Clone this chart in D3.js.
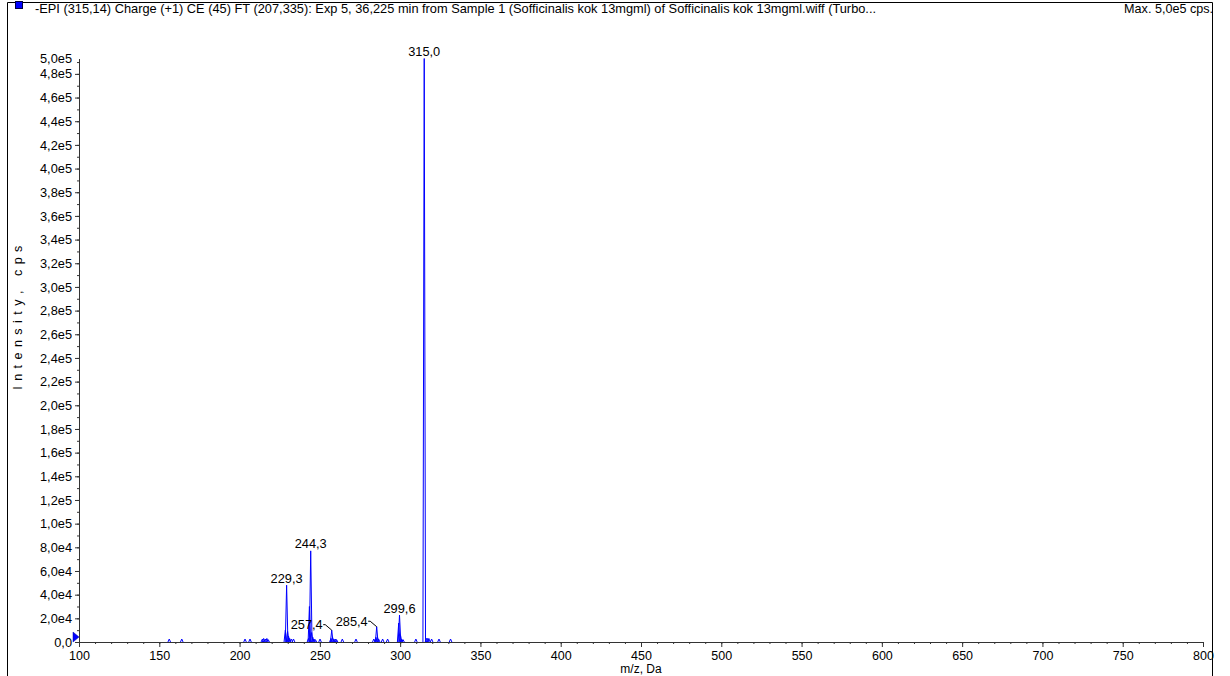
<!DOCTYPE html>
<html>
<head>
<meta charset="utf-8">
<script src="https://cdn.jsdelivr.net/npm/d3@7"></script>
<style>
  html, body { margin: 0; padding: 0; background: #ffffff; }
  svg { display: block; font-family: "Liberation Sans", Arial, sans-serif; }
</style>
</head>
<body>
<svg id="chart" width="1230" height="676"></svg>
<script>
// ---- spectrum data -------------------------------------------------------
const headerTitle = "-EPI (315,14) Charge (+1) CE (45) FT (207,335): Exp 5, 36,225 min from Sample 1 (Sofficinalis kok 13mgml) of Sofficinalis kok 13mgml.wiff (Turbo...";
const headerMax = "Max. 5,0e5 cps.";
const xTitle = "m/z, Da";
const yTitle = "I n t e n s i t y ,   c p s";

// centroid sticks: m/z and intensity (cps)
const peakMz = [
  156.2, 164.0, 203.4, 206.5, 214.2, 215.0, 216.0, 217.0, 217.8,
  228.5, 229.3, 229.9, 230.5, 231.2, 232.3, 233.6,
  242.9, 243.5, 244.3, 244.9, 245.6, 246.4, 247.2, 250.1,
  256.9, 257.4, 257.9, 258.8, 259.8, 260.4, 264.0, 272.5,
  283.6, 284.9, 285.4, 285.9, 286.6, 289.1, 292.2,
  299.1, 299.6, 300.2, 300.9, 301.8, 309.8,
  315.0, 316.4, 317.1, 317.9, 319.6, 324.2, 331.4
];
const peakIntensity = [
  2500, 2500, 2500, 2500, 2500, 3000, 2500, 3000, 2000,
  10000, 48000, 9000, 5000, 3000, 2500, 2500,
  3000, 30000, 77000, 8000, 4000, 2500, 2000, 2500,
  3000, 10000, 4000, 2500, 2500, 2000, 2500, 2500,
  2500, 4000, 12900, 4000, 2500, 2500, 2500,
  16000, 22800, 6000, 2500, 2000, 2500,
  493000, 3000, 3000, 3000, 2500, 2500, 2500
];

// annotated peaks, and the ones whose label sits to the left with a leader
const labelledMz = [229.3, 244.3, 257.4, 285.4, 299.6, 315.0];
const leaderMz = [257.4, 285.4];

// axis ticks
const xTickValues = [100, 150, 200, 250, 300, 350, 400, 450, 500, 550, 600, 650, 700, 750, 800];
const yTickValues = [0, 2e4, 4e4, 6e4, 8e4, 1e5, 1.2e5, 1.4e5, 1.6e5, 1.8e5, 2e5, 2.2e5, 2.4e5, 2.6e5,
  2.8e5, 3e5, 3.2e5, 3.4e5, 3.6e5, 3.8e5, 4e5, 4.2e5, 4.4e5, 4.6e5, 4.8e5];
const yTickLabels = ["0,0", "2,0e4", "4,0e4", "6,0e4", "8,0e4", "1,0e5", "1,2e5", "1,4e5", "1,6e5", "1,8e5",
  "2,0e5", "2,2e5", "2,4e5", "2,6e5", "2,8e5", "3,0e5", "3,2e5", "3,4e5", "3,6e5", "3,8e5",
  "4,0e5", "4,2e5", "4,4e5", "4,6e5", "4,8e5"];
const yTopLabel = "5,0e5";
const maxIntensity = 493000;

// ---- layout --------------------------------------------------------------
const svg = d3.select("#chart");
const W = 1230, H = 676;
const plot = { left: 79, right: 1203, top: 58.5, bottom: 642 };
const blue = "#0000ff";

const x = d3.scaleLinear().domain([100, 800]).range([plot.left, plot.right]);
const y = d3.scaleLinear().domain([0, maxIntensity]).range([plot.bottom, plot.top]);

// panel frame
svg.append("path")
  .attr("d", `M7.5,${H} V2.5 H1212.5 V${H}`)
  .attr("fill", "none").attr("stroke", "#000").attr("stroke-width", 1);

// header: legend swatch, title, max intensity
svg.append("rect")
  .attr("x", 15.5).attr("y", 1.5).attr("width", 7).attr("height", 7)
  .attr("fill", blue).attr("stroke", "#000040").attr("stroke-width", 1);
svg.append("text")
  .attr("x", 35).attr("y", 12.5)
  .attr("font-size", 12.8).attr("fill", "#000")
  .text(headerTitle);
svg.append("text")
  .attr("x", 1213).attr("y", 12.5)
  .attr("text-anchor", "end")
  .attr("font-size", 12.6).attr("fill", "#000")
  .text(headerMax);

// ---- axes ----------------------------------------------------------------
const xMinor = d3.range(100, 801, 10);
const yMinor = d3.range(0, maxIntensity, 1e4);

const xAxisG = svg.append("g").attr("transform", `translate(0,${plot.bottom})`);
xAxisG.append("g")
  .call(d3.axisBottom(x).tickValues(xMinor).tickSize(2).tickFormat(""))
  .call(g => g.select(".domain").remove());
xAxisG.append("g")
  .call(d3.axisBottom(x).tickValues(xTickValues).tickSize(5).tickSizeOuter(0).tickPadding(4)
    .tickFormat(d3.format("d")))
  .call(g => g.selectAll("text").attr("font-size", 12.5).attr("fill", "#000"));
xAxisG.selectAll("line").attr("stroke", "#333");
xAxisG.selectAll(".domain").attr("stroke", "#333");

const yAxisG = svg.append("g").attr("transform", `translate(${plot.left},0)`);
yAxisG.append("g")
  .call(d3.axisLeft(y).tickValues(yMinor).tickSize(2).tickFormat(""))
  .call(g => g.select(".domain").remove());
yAxisG.append("g")
  .call(d3.axisLeft(y).tickValues(yTickValues).tickSize(4).tickSizeOuter(0).tickPadding(3)
    .tickFormat((d, i) => yTickLabels[i]))
  .call(g => g.selectAll("text").attr("font-size", 12.8).attr("fill", "#000"));
yAxisG.append("text")
  .attr("x", -7).attr("y", y(maxIntensity)).attr("dy", "0.32em")
  .attr("text-anchor", "end").attr("font-size", 12.8).attr("fill", "#000")
  .text(yTopLabel);
yAxisG.selectAll("line").attr("stroke", "#333");
yAxisG.selectAll(".domain").attr("stroke", "#333");

// axis titles
svg.append("text")
  .attr("x", (plot.left + plot.right) / 2).attr("y", 673)
  .attr("text-anchor", "middle").attr("font-size", 12).attr("fill", "#000")
  .text(xTitle);
svg.append("text")
  .attr("transform", `translate(22,${(plot.top + plot.bottom) / 2 - 33}) rotate(-90)`)
  .attr("text-anchor", "middle").attr("font-size", 12.5).attr("letter-spacing", 1)
  .attr("fill", "#000")
  .attr("xml:space", "preserve").style("white-space", "pre")
  .text(yTitle);

// zero-level marker on the intensity axis, tip resting on the axis line
const x0 = x(100), y0 = y(0);
svg.append("path")
  .attr("d", `M${x0 - 6},${y0 - 10} L${x0},${y0 - 5} L${x0 - 6},${y0} Z`)
  .attr("fill", blue).attr("stroke", "#0000a0").attr("stroke-width", 0.5);

// ---- spectrum sticks -------------------------------------------------------
const peaks = peakMz.map((mz, i) => ({ mz, value: peakIntensity[i] }));
const halfWidth = 1.3;
svg.append("g")
  .selectAll("path")
  .data(peaks)
  .join("path")
  .attr("d", d => {
    const px = x(d.mz), py = y(d.value), base = y(0);
    return `M${px - halfWidth},${base} L${px},${py} L${px + halfWidth},${base}`;
  })
  .attr("fill", "none")
  .attr("stroke", blue)
  .attr("stroke-width", 1);

// ---- peak annotations ------------------------------------------------------
const fmtMz = v => d3.format(".1f")(v).replace(".", ",");
const annotated = peaks.filter(p => labelledMz.includes(p.mz));
const annG = svg.append("g").attr("font-size", 12.8).attr("fill", "#000");
annotated.forEach(p => {
  const px = x(p.mz), py = y(p.value);
  if (leaderMz.includes(p.mz)) {
    const tx = px - 9, ty = py - 1;
    annG.append("text").attr("x", tx).attr("y", ty).attr("text-anchor", "end").text(fmtMz(p.mz));
    annG.append("path")
      .attr("d", `M${tx + 0.5},${ty - 4.5} L${tx + 2.5},${ty - 4.5} L${px},${py}`)
      .attr("fill", "none").attr("stroke", "#000").attr("stroke-width", 1);
  } else {
    annG.append("text").attr("x", px).attr("y", py - 2.5).attr("text-anchor", "middle").text(fmtMz(p.mz));
  }
});
</script>
</body>
</html>
